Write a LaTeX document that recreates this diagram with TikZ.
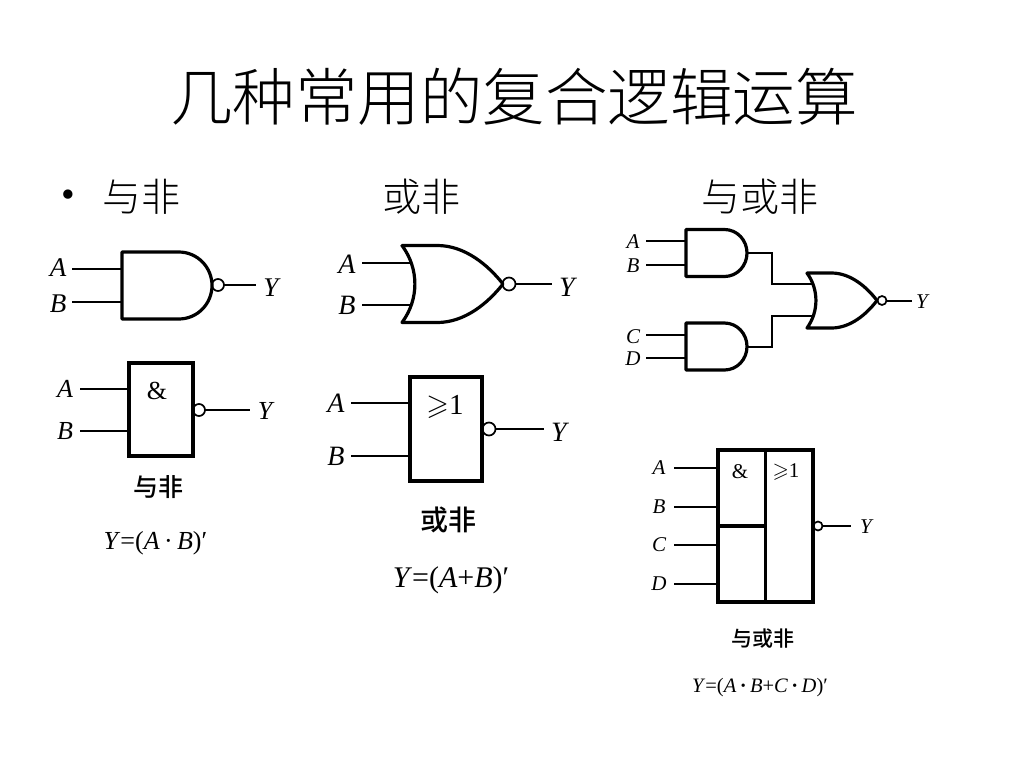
\documentclass[tikz,border=0pt]{standalone}
\usepackage{amssymb}
\usepackage{fontspec}
\setmainfont{Liberation Serif}
\newfontfamily\cjkmid{Noto Sans CJK SC Medium}
\newfontfamily\cjklight{Noto Sans CJK SC Light}
\usetikzlibrary{positioning}

\newcommand{\sized}[1]{\fontsize{#1}{#1}\selectfont}
\tikzset{
  wire/.style={line width=2pt},
  gateline/.style={line width=3.2pt, line join=round},
  gatebox/.style={draw, line width=3.2pt, inner sep=0pt, outer sep=0pt},
  bubble/.style={draw, circle, line width=1.7pt, inner sep=0pt, outer sep=0pt, minimum size=#1},
  pinlabel/.style={font=\sized{#1}\itshape, inner sep=0pt, minimum width=30pt},
  plain/.style={font=\sized{#1}, inner sep=0pt},
  caption/.style={font=\sized{#1}\cjkmid, inner sep=0pt},
  heading/.style={font=\sized{#1}\cjklight, inner sep=0pt},
  andgate/.pic={
    \draw[gateline] (0,-.5) -- (.63,-.5) .. controls (.84,-.5) and (1,-.27) .. (1,0)
      .. controls (1,.27) and (.84,.5) .. (.63,.5) -- (0,.5) -- cycle;
    \coordinate (-a) at (0,-.25);
    \coordinate (-b) at (0,.25);
    \coordinate (-out) at (1,0);
  },
  orgate/.pic={
    \draw[gateline] (0,-.5) -- (.35,-.5) .. controls (.62,-.5) and (.85,-.25) .. (1,0)
      .. controls (.85,.25) and (.62,.5) .. (.35,.5) -- (0,.5)
      .. controls (.17,.2) and (.17,-.2) .. cycle;
    \coordinate (-a) at (.09,-.27);
    \coordinate (-b) at (.09,.27);
    \coordinate (-out) at (1,0);
  }
}

\begin{document}
\begin{tikzpicture}[x=1pt, y=-1pt]
  \useasboundingbox (0,0) rectangle (1024,768);

  \node[heading=62.5] (title) at (514,97) {几种常用的复合逻辑运算};
  \node[plain=39] (dot) at (68,199) {\textbullet};
  \node[heading=39] (headnand) at (141,197) {与非};
  \node[heading=39] (headnor) at (421,197) {或非};
  \node[heading=39] (headaoi) at (760,197) {与或非};

  % nand, curved
  \pic (nandg) at (122,285.5) [xscale=90, yscale=67] {andgate};
  \node[pinlabel=27, minimum width=28pt] (nandga) at (58,268) {A};
  \node[pinlabel=27, minimum width=28pt] (nandgb) at (58,304) {B};
  \node[bubble=12pt] (nandgo) at (218,285) {};
  \node[pinlabel=27] (nandgy) at (271,288) {Y};
  \draw[wire] (nandga.east |- nandg-a) -- (nandg-a);
  \draw[wire] (nandgb.east |- nandg-b) -- (nandg-b);
  \draw[wire] (nandgo.east) -- (nandgy.west |- nandgo.east);

  % nand, box
  \node[gatebox, minimum width=64pt, minimum height=93pt] (nandb) at (161,409.5) {};
  \node[plain=26] (nandbamp) at (157,391) {\&};
  \node[pinlabel=26] (nandba) at (65,389) {A};
  \node[pinlabel=26] (nandbb) at (65,431) {B};
  \node[bubble=12pt] (nandbo) at (199,410) {};
  \node[pinlabel=26] (nandby) at (265,411) {Y};
  \draw[wire] (nandba.east) -- (nandba.east -| nandb.west);
  \draw[wire] (nandbb.east) -- (nandbb.east -| nandb.west);
  \draw[wire] (nandbo.east) -- (nandby.west |- nandbo.east);
  \node[caption=25] (nandname) at (158,487) {与非};
  \node[plain=26] (nandexpr) at (155.5,543) {\textit{Y}=(\textit{A}\,·\,\textit{B})′};

  % nor, curved
  \pic (norg) at (402,284) [xscale=101, yscale=77] {orgate};
  \node[pinlabel=28] (norga) at (347,264) {A};
  \node[pinlabel=28] (norgb) at (347,305) {B};
  \node[bubble=13pt] (norgo) at (509,284) {};
  \node[pinlabel=28] (norgy) at (567,287) {Y};
  \draw[wire] (norga.east |- norg-a) -- (norg-a);
  \draw[wire] (norgb.east |- norg-b) -- (norg-b);
  \draw[wire] (norgo.east) -- (norgy.west |- norgo.east);

  % nor, box
  \node[gatebox, minimum width=72pt, minimum height=104pt] (norb) at (446,429) {};
  \node[plain=29] (norbge) at (445,407) {$\geqslant$1};
  \node[pinlabel=28] (norba) at (336,403) {A};
  \node[pinlabel=28] (norbb) at (336,456) {B};
  \node[bubble=13pt] (norbo) at (489,429) {};
  \node[pinlabel=28] (norby) at (559,432) {Y};
  \draw[wire] (norba.east) -- (norba.east -| norb.west);
  \draw[wire] (norbb.east) -- (norbb.east -| norb.west);
  \draw[wire] (norbo.east) -- (norby.west |- norbo.east);
  \node[caption=28] (norname) at (448.5,520) {或非};
  \node[plain=30] (norexpr) at (451,580) {\textit{Y}=(\textit{A}+\textit{B})′};

  % and-or-invert, curved
  \pic (aoiu) at (686,253) [xscale=61, yscale=47] {andgate};
  \pic (aoil) at (686,346.5) [xscale=61, yscale=47] {andgate};
  \pic (aoio) at (807,300.5) [xscale=70, yscale=55] {orgate};
  \node[pinlabel=21, minimum width=26pt] (aoia) at (633,242) {A};
  \node[pinlabel=21, minimum width=26pt] (aoib) at (633,266) {B};
  \node[pinlabel=21, minimum width=26pt] (aoic) at (633,337) {C};
  \node[pinlabel=21, minimum width=26pt] (aoid) at (633,359) {D};
  \node[bubble=9pt] (aoibub) at (882,300.5) {};
  \node[pinlabel=21, minimum width=20pt] (aoiy) at (922,302) {Y};
  \coordinate (jogu) at (772,284);
  \coordinate (jogl) at (772,316);
  \draw[wire] (aoia.east |- aoiu-a) -- (aoiu-a);
  \draw[wire] (aoib.east |- aoiu-b) -- (aoiu-b);
  \draw[wire] (aoic.east |- aoil-a) -- (aoil-a);
  \draw[wire] (aoid.east |- aoil-b) -- (aoil-b);
  \draw[wire] (aoiu-out) -| (jogu) -- (jogu -| aoio-a);
  \draw[wire] (aoil-out) -| (jogl) -- (jogl -| aoio-b);
  \draw[wire] (aoibub.east) -- (aoiy.west |- aoibub.east);

  % and-or-invert, box
  \node[gatebox, minimum width=95pt, minimum height=152pt] (aoib2) at (765.5,526) {};
  \draw[gatebox] (aoib2.north) -- (aoib2.south);
  \draw[gatebox] (aoib2.west) -- (aoib2.center);
  \node[plain=21] (aoiamp) at (740,472) {\&};
  \node[plain=21] (aoige) at (786,472) {$\geqslant$1};
  \node[pinlabel=21] (boxa) at (659,468) {A};
  \node[pinlabel=21] (boxb) at (659,507) {B};
  \node[pinlabel=21] (boxc) at (659,545) {C};
  \node[pinlabel=21] (boxd) at (659,584) {D};
  \node[bubble=9pt] (boxo) at (818,526) {};
  \node[pinlabel=21] (boxy) at (866,527) {Y};
  \draw[wire] (boxa.east) -- (boxa.east -| aoib2.west);
  \draw[wire] (boxb.east) -- (boxb.east -| aoib2.west);
  \draw[wire] (boxc.east) -- (boxc.east -| aoib2.west);
  \draw[wire] (boxd.east) -- (boxd.east -| aoib2.west);
  \draw[wire] (boxo.east) -- (boxy.west |- boxo.east);
  \node[caption=21] (aoiname) at (762.5,639) {与或非};
  \node[plain=20.5] (aoiexpr) at (760,688) {\textit{Y}=(\textit{A}\,\textbf{·}\,\textit{B}+\textit{C}\,\textbf{·}\,\textit{D})′};
\end{tikzpicture}
\end{document}
